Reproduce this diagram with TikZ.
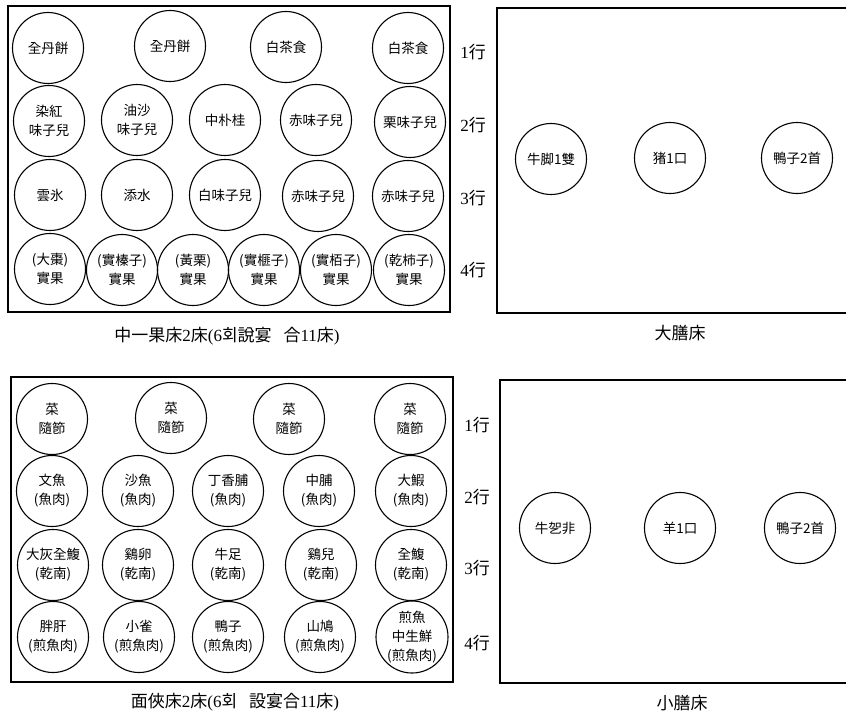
\documentclass[tikz,border=0pt]{standalone}
\usepackage{fontspec}
\setmainfont{Liberation Serif}
\newfontfamily\cjk{Noto Sans CJK KR}
\newcommand\cj[1]{{\cjk #1}}
\begin{document}
\begin{tikzpicture}[x=1pt,y=-1pt,
  dish/.style={circle,draw,line width=1.1pt,minimum size=71pt,inner sep=0pt,align=center,
    font=\cjk\fontsize{13.5}{19}\selectfont},
  rowlab/.style={font=\fontsize{17}{20}\selectfont},
  caption/.style={font=\fontsize{17}{20}\selectfont},
  tray/.style={line width=1.3pt}]
\useasboundingbox (0,0) rectangle (846,716);

% ---------- top-left tray ----------
\draw[tray] (8,6) rectangle (450,312);
\node[dish] (a11) at (48,48)  {全丹餅};
\node[dish] (a12) at (170,46) {全丹餅};
\node[dish] (a13) at (286,47) {白茶食};
\node[dish] (a14) at (408,48) {白茶食};

\node[dish] (a21) at (49,121)  {染紅\\味子兒};
\node[dish] (a22) at (137,120) {油沙\\味子兒};
\node[dish] (a23) at (225,120) {中朴桂};
\node[dish] (a24) at (316,120) {赤味子兒};
\node[dish] (a25) at (410,122) {栗味子兒};

\node[dish] (a31) at (50,195)  {雲氷};
\node[dish] (a32) at (137,195) {添水};
\node[dish] (a33) at (225,195) {白味子兒};
\node[dish] (a34) at (318,196) {赤味子兒};
\node[dish] (a35) at (408,196) {赤味子兒};

\node[dish] (a41) at (50,269)  {(大棗)\\實果};
\node[dish] (a42) at (122,270) {(實榛子)\\實果};
\node[dish] (a43) at (193,270) {(黃栗)\\實果};
\node[dish] (a44) at (264,270) {(實榧子)\\實果};
\node[dish] (a45) at (336,270) {(實栢子)\\實果};
\node[dish] (a46) at (409,270) {(乾柿子)\\實果};

\node[rowlab] (ar1) at (473,52)  {1\cj{行}};
\node[rowlab] (ar2) at (473,125) {2\cj{行}};
\node[rowlab] (ar3) at (473,198) {3\cj{行}};
\node[rowlab] (ar4) at (473,270) {4\cj{行}};

\node[caption] (acap) at (227,336) {\cj{中一果床}2\cj{床}(6\cj{회說宴}\hspace{0.7em}\cj{合}11\cj{床})};

% ---------- top-right tray ----------
\draw[tray] (497,8) rectangle (852,313);
\node[dish] (b1) at (551,159) {牛脚1雙};
\node[dish] (b2) at (670,158) {猪1口};
\node[dish] (b3) at (797,158) {鴨子2首};
\node[caption] (bcap) at (680,333) {\cj{大膳床}};

% ---------- bottom-left tray ----------
\draw[tray] (11,377) rectangle (453,682);
\node[dish] (c11) at (52,419)  {菜\\隨節};
\node[dish] (c12) at (171,418) {菜\\隨節};
\node[dish] (c13) at (289,419) {菜\\隨節};
\node[dish] (c14) at (410,419) {菜\\隨節};

\node[dish] (c21) at (52,491)  {文魚\\(魚肉)};
\node[dish] (c22) at (138,491) {沙魚\\(魚肉)};
\node[dish] (c23) at (228,491) {丁香脯\\(魚肉)};
\node[dish] (c24) at (319,491) {中脯\\(魚肉)};
\node[dish] (c25) at (411,491) {大鰕\\(魚肉)};

\node[dish] (c31) at (53,565)  {大灰全鰒\\(乾南)};
\node[dish] (c32) at (138,565) {鷄卵\\(乾南)};
\node[dish] (c33) at (228,565) {牛足\\(乾南)};
\node[dish] (c34) at (321,565) {鷄兒\\(乾南)};
\node[dish] (c35) at (411,565) {全鰒\\(乾南)};

\node[dish] (c41) at (53,637)  {胖肝\\(煎魚肉)};
\node[dish] (c42) at (139,637) {小雀\\(煎魚肉)};
\node[dish] (c43) at (228,637) {鴨子\\(煎魚肉)};
\node[dish] (c44) at (320,637) {山鳩\\(煎魚肉)};
\node[dish] (c45) at (412,637) {煎魚\\中生鮮\\(煎魚肉)};

\node[rowlab] (cr1) at (477,425) {1\cj{行}};
\node[rowlab] (cr2) at (477,497) {2\cj{行}};
\node[rowlab] (cr3) at (477,568) {3\cj{行}};
\node[rowlab] (cr4) at (477,643) {4\cj{行}};

\node[caption] (ccap) at (235,702) {\cj{面俠床}2\cj{床}(6\cj{회}\hspace{0.7em}\cj{設宴合}11\cj{床})};

% ---------- bottom-right tray ----------
\draw[tray] (500,380) rectangle (852,683);
\node[dish] (d1) at (555,528) {牛乫非};
\node[dish] (d2) at (680,528) {羊1口};
\node[dish] (d3) at (800,528) {鴨子2首};
\node[caption] (dcap) at (682,703) {\cj{小膳床}};
\end{tikzpicture}
\end{document}
